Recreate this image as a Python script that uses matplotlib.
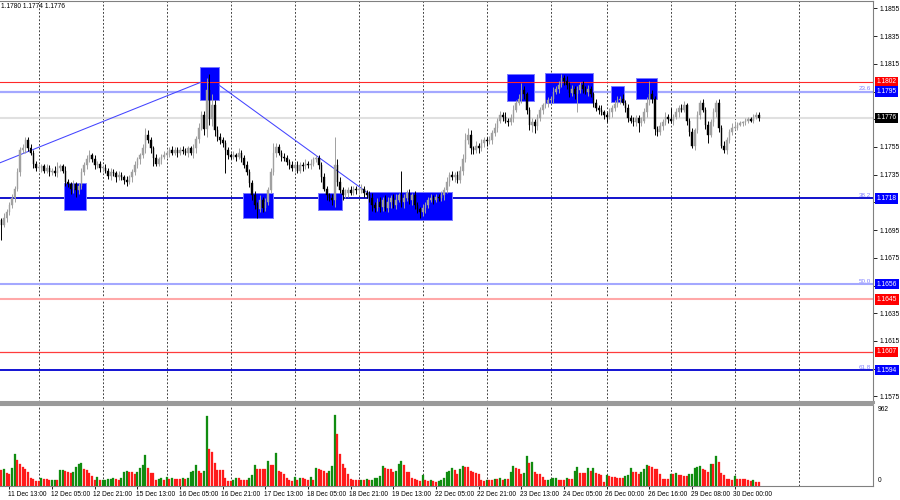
import matplotlib
matplotlib.use("Agg")
import matplotlib.pyplot as plt
from matplotlib.patches import Rectangle
import matplotlib.transforms as mtransforms
import numpy as np

# ---------------- data ----------------
session_days = ["11 Dec", "12 Dec", "15 Dec", "16 Dec", "17 Dec", "18 Dec", "19 Dec",
                "22 Dec", "23 Dec", "24 Dec", "26 Dec", "29 Dec", "30 Dec"]
session_first_hour = [10, 0, 0, 0, 0, 0, 0, 0, 0, 0, 0, 0, 0]
session_bars = [14, 24, 24, 24, 24, 24, 24, 24, 24, 21, 24, 24, 10]

price_base = 1.1700
first_open_pips = 2
close_pips = [
    -1, 4, 8, 13, 18, 25, 37, 53, 54, 60, 54, 51, 43, 40,
    40, 41, 38, 40, 37, 38, 36, 40, 41, 38, 30, 28, 25, 28, 24, 27, 37, 42, 46, 49, 46, 42, 43, 40,
    40, 38, 34, 37, 36, 33, 35, 33, 31, 30, 33, 37, 42, 46, 49, 54, 64, 60, 54, 47, 43, 46, 48, 49,
    51, 53, 51, 53, 51, 53, 52, 51, 54, 51, 54, 61, 69, 78, 68, 96, 75, 85, 67, 62, 60, 58, 53, 49,
    48, 49, 48, 51, 47, 42, 37, 29, 20, 13, 10, 17, 11, 15, 24, 37, 51, 55, 51, 48, 47, 44, 42, 40,
    42, 38, 42, 41, 43, 42, 43, 46, 47, 42, 33, 25, 20, 18, 17, 42, 30, 24, 20, 22, 24, 22, 25, 24,
    24, 25, 22, 20, 18, 13, 11, 15, 12, 17, 11, 15, 18, 13, 17, 20, 15, 18, 22, 17, 20, 13, 10, 8,
    11, 13, 17, 18, 17, 19, 18, 20, 24, 30, 35, 33, 35, 31, 38, 46, 60, 64, 54, 53, 56, 54, 58, 60,
    59, 60, 65, 69, 74, 78, 77, 74, 73, 76, 82, 87, 90, 96, 93, 82, 71, 73, 70, 76, 82, 85, 87, 89,
    90, 95, 97, 100, 105, 103, 100, 94, 97, 93, 96, 100, 97, 95, 97, 93, 87, 83, 82, 80, 78,
    77, 80, 83, 86, 89, 90, 87, 83, 76, 74, 73, 76, 72, 74, 80, 87, 93, 90, 68, 66, 70, 73, 77, 75,
    74, 77, 80, 83, 82, 85, 74, 66, 56, 67, 78, 87, 82, 71, 64, 73, 80, 87, 69, 56, 53, 60, 66, 69,
    69, 71, 72, 73, 74, 75, 74, 77, 78, 76,
]
wick_up_pips = [
    2, 3, 2, 2, 3, 2, 3, 2, 3, 2, 2, 3, 2, 2,
    3, 2, 2, 3, 2, 2, 3, 4, 2, 2, 3, 2, 2, 3, 2, 2, 3, 2, 3, 4, 2, 3, 2, 2,
    2, 3, 2, 3, 2, 2, 3, 2, 2, 3, 2, 2, 3, 2, 2, 3, 5, 3, 2, 2, 3, 2, 2, 3,
    2, 2, 3, 2, 2, 2, 3, 2, 2, 2, 3, 2, 3, 3, 3, 9, 12, 8, 4, 3, 3, 2, 2, 2,
    2, 3, 2, 3, 2, 2, 3, 2, 2, 3, 2, 3, 2, 3, 2, 3, 7, 3, 2, 2, 3, 2, 2, 3,
    2, 3, 2, 2, 3, 2, 3, 2, 2, 2, 2, 3, 2, 2, 3, 20, 4, 3, 2, 3, 2, 3, 2, 2,
    2, 3, 2, 2, 3, 4, 2, 3, 4, 2, 3, 4, 2, 3, 4, 2, 18, 3, 2, 3, 2, 3, 2, 2,
    3, 2, 2, 3, 2, 2, 2, 3, 2, 3, 2, 3, 2, 3, 3, 4, 5, 5, 3, 2, 3, 2, 3, 2,
    2, 3, 2, 3, 2, 3, 2, 3, 2, 3, 3, 2, 3, 5, 3, 2, 2, 3, 2, 3, 2, 2, 3, 2,
    2, 3, 2, 3, 3, 2, 3, 2, 3, 2, 3, 2, 3, 2, 3, 2, 2, 3, 2, 3, 2,
    2, 3, 2, 3, 3, 2, 3, 2, 3, 2, 3, 2, 2, 3, 3, 4, 10, 3, 2, 2, 3, 2, 3, 2,
    8, 2, 3, 2, 3, 3, 2, 2, 3, 2, 3, 2, 3, 2, 3, 2, 3, 2, 3, 2, 3, 2, 2, 3,
    5, 2, 2, 1, 2, 2, 2, 2, 2, 2,
]
wick_dn_pips = [
    11, 2, 3, 2, 2, 3, 2, 3, 2, 3, 2, 2, 3, 2,
    2, 3, 2, 2, 3, 2, 2, 3, 2, 2, 3, 2, 4, 3, 5, 3, 2, 2, 3, 2, 2, 3, 2, 3,
    3, 2, 2, 3, 2, 3, 2, 2, 3, 3, 2, 3, 2, 2, 3, 2, 3, 2, 3, 6, 2, 2, 3, 2,
    2, 3, 2, 2, 3, 2, 2, 2, 3, 2, 4, 3, 3, 2, 4, 6, 4, 5, 4, 3, 3, 3, 17, 3,
    2, 2, 3, 2, 3, 2, 2, 3, 3, 3, 6, 2, 3, 2, 2, 2, 2, 3, 2, 3, 2, 2, 3, 2,
    3, 2, 2, 3, 2, 2, 3, 2, 2, 3, 3, 2, 3, 2, 4, 5, 3, 2, 3, 2, 3, 2, 2, 3,
    3, 2, 3, 2, 3, 4, 3, 2, 4, 3, 2, 3, 4, 2, 3, 2, 3, 4, 2, 3, 4, 3, 3, 4,
    3, 4, 2, 2, 3, 2, 2, 2, 3, 2, 3, 2, 3, 2, 2, 3, 2, 3, 4, 3, 2, 3, 2, 3,
    3, 2, 3, 2, 3, 2, 3, 2, 3, 2, 3, 2, 2, 3, 3, 3, 4, 5, 5, 3, 2, 3, 2, 3,
    2, 3, 2, 3, 2, 3, 3, 3, 2, 3, 13, 2, 3, 2, 3, 2, 3, 2, 3, 2, 3,
    4, 2, 3, 2, 2, 3, 2, 3, 3, 2, 3, 3, 6, 2, 2, 3, 2, 3, 4, 3, 2, 3, 2, 3,
    2, 3, 2, 3, 2, 2, 3, 3, 2, 3, 2, 3, 2, 3, 6, 2, 3, 3, 3, 2, 2, 3, 2, 2,
    2, 2, 1, 2, 2, 2, 1, 2, 2, 2,
]
volumes = [
    196, 209, 167, 155, 230, 397, 322, 280, 238, 209, 176, 105, 84, 63,
    63, 96, 88, 84, 71, 75, 79, 79, 196, 205, 192, 180, 163, 171, 238, 280, 288, 213, 196, 167, 121, 79, 113, 71,
    75, 79, 88, 92, 96, 84, 79, 105, 180, 188, 171, 171, 155, 171, 230, 263, 389, 230, 167, 163, 71, 88, 105, 79,
    113, 88, 105, 88, 88, 88, 96, 92, 100, 180, 189, 264, 189, 168, 189, 882, 462, 428, 294, 197, 197, 197, 105, 63,
    63, 76, 97, 97, 80, 80, 80, 97, 139, 265, 210, 210, 210, 210, 315, 265, 265, 412, 189, 181, 147, 97, 80, 63,
    113, 71, 105, 97, 88, 80, 113, 80, 223, 214, 206, 189, 164, 189, 252, 895, 651, 407, 281, 231, 155, 88, 80, 71,
    71, 80, 80, 88, 71, 80, 97, 105, 122, 252, 223, 210, 210, 181, 189, 281, 315, 265, 181, 172, 105, 84, 80, 63,
    139, 71, 63, 80, 63, 46, 63, 80, 97, 172, 189, 223, 197, 155, 210, 248, 239, 239, 189, 181, 164, 147, 80, 63,
    80, 80, 80, 88, 88, 97, 80, 88, 88, 181, 252, 223, 210, 155, 168, 378, 294, 307, 181, 155, 155, 113, 71, 80,
    88, 97, 105, 80, 80, 80, 97, 92, 88, 189, 240, 168, 168, 160, 231, 189, 223, 168, 155, 140, 50,
    140, 123, 114, 114, 106, 98, 98, 123, 140, 225, 182, 182, 157, 182, 212, 259, 250, 242, 208, 208, 157, 85, 85, 85,
    157, 157, 165, 140, 140, 123, 123, 148, 157, 225, 233, 254, 212, 199, 182, 276, 276, 382, 297, 170, 140, 85, 85, 81,
    127, 85, 85, 85, 85, 76, 64, 81, 47, 47,
]
volume_scale_max = 962

time_labels = ["11 Dec 13:00", "12 Dec 05:00", "12 Dec 21:00", "15 Dec 13:00", "16 Dec 05:00",
               "16 Dec 21:00", "17 Dec 13:00", "18 Dec 05:00", "18 Dec 21:00", "19 Dec 13:00",
               "22 Dec 05:00", "22 Dec 21:00", "23 Dec 13:00", "24 Dec 05:00", "26 Dec 00:00",
               "26 Dec 16:00", "29 Dec 08:00", "30 Dec 00:00"]

# horizontal levels: price, line colour, line width, label box colour, fib text
level_prices = [1.1802, 1.1795, 1.1776, 1.1718, 1.1656, 1.1645, 1.1607, 1.1594]
level_colors = ["#ff2828", "#a4a8ff", "#e0e0e0", "#0000c8", "#a4a8ff", "#ffa8a8", "#ff3c3c", "#0000d0"]
level_widths = [0.8, 1.6, 1.5, 1.3, 1.5, 1.5, 0.9, 1.3]
level_tags = ["#ff0000", "#0000ff", "#000000", "#0000ff", "#0000ff", "#ff0000", "#ff0000", "#0000ff"]
level_fib = ["", "23.6", "", "38.2", "50.0", "", "", "61.8"]

# blue zones: bar-from, bar-to, top price, bottom price
zone_x0 = [23.5, 74.5, 90.7, 118.6, 137.6, 189.7, 203.9, 228.6, 237.9]
zone_x1 = [31.75, 81.6, 101.7, 127.6, 168.9, 199.7, 221.7, 233.6, 245.7]
zone_top = [1.17290, 1.18127, 1.17217, 1.17217, 1.17225, 1.18077, 1.18084, 1.17990, 1.18048]
zone_bot = [1.17095, 1.17889, 1.17037, 1.17095, 1.17023, 1.17884, 1.17867, 1.17877, 1.17894]

# trend lines: (bar, price) start and end
trend_x0 = [-0.5, 81.6]
trend_p0 = [1.17436, 1.17997]
trend_x1 = [74.5, 137.5]
trend_p1 = [1.18015, 1.17217]

header_text = "1.1780 1.1774 1.1776"

# ---------------- build series ----------------
bar_times = []
for d, h0, n in zip(session_days, session_first_hour, session_bars):
    for k in range(n):
        bar_times.append(f"{d} {h0 + k:02d}:00")
n_bars = len(bar_times)
idx = np.arange(n_bars)

closes = price_base + np.array(close_pips) / 1e4
opens = np.concatenate([[price_base + first_open_pips / 1e4], closes[:-1]])
highs = np.maximum(opens, closes) + np.array(wick_up_pips) / 1e4
lows = np.minimum(opens, closes) - np.array(wick_dn_pips) / 1e4
vols = np.array(volumes, dtype=float)

grid_idx = [i for i, t in enumerate(bar_times) if t.endswith(" 00:00")]
grid_idx.append(grid_idx[-1] + 24)
label_idx = [bar_times.index(t) for t in time_labels]

# ---------------- figure ----------------
plt.rcParams['font.family'] = ['Liberation Sans', 'DejaVu Sans']
FS = 4.8
W, H = 900, 500
fig = plt.figure(figsize=(9, 5), dpi=100)
fig.patch.set_facecolor("white")
right_px = 873
ax = fig.add_axes([0, 1 - 402 / H, right_px / W, 401 / H])
axv = fig.add_axes([0, 1 - 486 / H, right_px / W, 81 / H], sharex=ax)

xmin, xmax = -0.5, right_px / 2.667 - 0.5
ax.set_xlim(xmin, xmax)
ax.set_ylim(1.15709, 1.18604)

for a in (ax, axv):
    for g in grid_idx:
        a.axvline(g, color="#222222", lw=0.6, ls=(0, (2.2, 2.2)), zorder=0.5)

# levels
for p, c, lw in zip(level_prices, level_colors, level_widths):
    z = 2.5 if c.startswith("#ff2") or c.startswith("#ff3") else 1.5
    ax.axhline(p, color=c, lw=lw, zorder=z)

# zones
for x0, x1, t, b in zip(zone_x0, zone_x1, zone_top, zone_bot):
    ax.add_patch(Rectangle((x0, b), x1 - x0, t - b, facecolor="#0000ff",
                           edgecolor="#7a7aff", lw=0.7, zorder=2))

# trend lines
for x0, p0, x1, p1 in zip(trend_x0, trend_p0, trend_x1, trend_p1):
    ax.plot([x0, x1], [p0, p1], color="#4444ff", lw=0.75, zorder=2.6)

# candles
up = closes >= opens
bull_c, bear_c = "#a0a0a0", "#000000"
cols = np.where(up, bull_c, bear_c)
ax.vlines(idx, lows, highs, colors=cols, lw=0.7, zorder=3)
body_h = np.maximum(np.abs(closes - opens), 0.00004)
ax.bar(idx, body_h, bottom=np.minimum(opens, closes), width=0.62,
       color=cols, edgecolor=cols, lw=0.3, zorder=3.2)

# price axis: ticks every 20 pips; labels hidden where a level tag sits on top
ax.yaxis.tick_right()
yt = [1.1575 + 0.002 * k for k in range(15)]
ax.set_yticks(yt)
ax.set_yticklabels(["" if min(abs(v - p) for p in level_prices) < 0.00075 else f"{v:.4f}"
                    for v in yt], fontsize=FS)
ax.tick_params(axis="y", length=3, width=0.6, pad=2, colors="#000000")
ax.tick_params(axis="x", length=0, labelbottom=False)
ax.spines["left"].set_visible(False)
ax.spines["top"].set_color("#808080")
ax.spines["right"].set_color("#808080")
ax.spines["bottom"].set_color("#9a9a9a")
ax.spines["bottom"].set_linewidth(2.2)

ytr = ax.get_yaxis_transform()
for p, tag, fib in zip(level_prices, level_tags, level_fib):
    ax.text(1.004, p, f"{p:.4f}", transform=ytr, ha="left", va="center", color="white",
            fontsize=FS, zorder=20, clip_on=False,
            bbox=dict(boxstyle="square,pad=0.28", fc=tag, ec="none"))
    if fib:
        ax.text(0.998, p + 0.00003, fib, transform=ytr, ha="right", va="bottom",
                color="#8080ff", fontsize=FS - 0.3, zorder=20)

fig.text(1 / W, 1 - 7 / H, header_text, fontsize=FS, ha="left", va="center", color="#000000")

# volume panel
vc = ["#ff1a1a"] + ["#108c10" if vols[i] > vols[i - 1] else "#ff1a1a" for i in range(1, n_bars)]
axv.bar(idx, vols, width=0.7, color=vc, edgecolor=vc, lw=0.2, zorder=3)
axv.set_ylim(0, 1020)
axv.set_yticks([])
axv.spines["left"].set_visible(False)
axv.spines["top"].set_color("#9a9a9a")
axv.spines["top"].set_linewidth(1.5)
axv.spines["right"].set_color("#808080")
axv.spines["bottom"].set_color("#808080")
vtr = axv.get_yaxis_transform()
axv.text(1.006, volume_scale_max, f"{volume_scale_max}", transform=vtr, ha="left", va="center",
         fontsize=FS, clip_on=False)
axv.text(1.006, 0.02, "0", transform=axv.transAxes, ha="left", va="bottom", fontsize=FS, clip_on=False)

axv.set_xticks(label_idx)
axv.set_xticklabels(time_labels, fontsize=FS, ha="left")
axv.tick_params(axis="x", length=2, width=0.6, pad=1.5)
for lab in axv.get_xticklabels():
    lab.set_transform(lab.get_transform() + mtransforms.Affine2D().translate(-1.5, 0))

fig.savefig("out.png", dpi=100, facecolor="white")
